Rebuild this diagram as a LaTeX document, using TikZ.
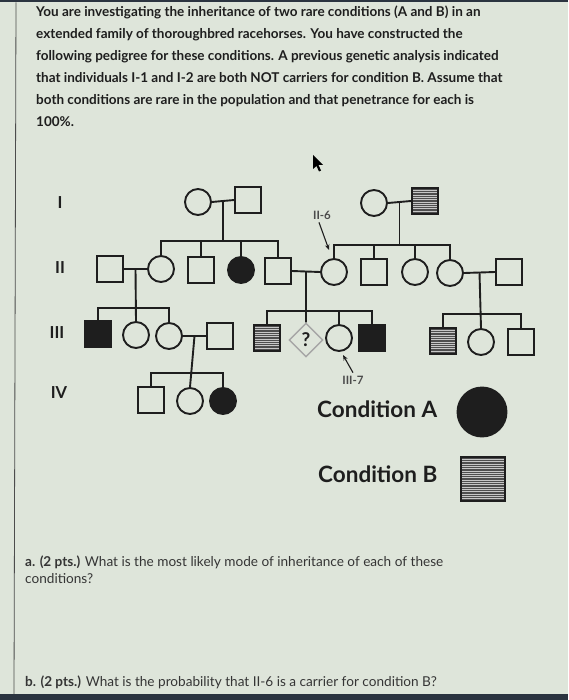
\documentclass[tikz,border=0pt]{standalone}
\usepackage{fontspec}
\setmainfont{Lato}
\usetikzlibrary{shapes.geometric,arrows.meta,calc}
\definecolor{bg}{HTML}{DEE5DA}
\definecolor{ink}{HTML}{1E1E1E}
\definecolor{hatch}{HTML}{4E4E4E}
\definecolor{frame}{HTML}{2B3440}
\begin{document}
\begin{tikzpicture}[x=1pt,y=-1pt,
  ind/.style={draw=ink, line width=1.9pt, inner sep=0pt, minimum size=26pt, fill=bg},
  male/.style={ind, rectangle},
  female/.style={ind, circle},
  affA/.style={fill=ink},
  affB/.style={fill=hatch, path picture={\foreach \k in {1,...,22}{\draw[black!22, line width=0.45pt] ([yshift=-\k*2.3pt]path picture bounding box.north west) -- ([yshift=-\k*2.3pt]path picture bounding box.north east);}}},
  unk/.style={diamond, draw=gray!70, line width=1.4pt, aspect=1, minimum size=34pt, inner sep=0pt, fill=bg, font=\bfseries\fontsize{19}{19}\selectfont, text=ink},
  rel/.style={draw=ink, line width=1.9pt},
  para/.style={anchor=base west, inner sep=0pt, text=ink, font=\bfseries\fontsize{13.5}{16}\selectfont},
  ques/.style={anchor=base west, inner sep=0pt, text=ink!90, font=\fontsize{13.6}{16}\selectfont},
  rowlab/.style={inner sep=0pt, text=ink, font=\bfseries\fontsize{16.5}{16}\selectfont},
  tag/.style={inner sep=0pt, text=ink!80, font=\bfseries\fontsize{11.5}{11}\selectfont},
  pointer/.style={draw=ink, line width=1.1pt, -{Stealth[length=5.5pt,width=4.5pt]}},
  legtext/.style={anchor=base west, inner sep=0pt, text=ink, font=\bfseries\fontsize{22.5}{22}\selectfont}
]
\useasboundingbox (0,0) rectangle (568,700);
\fill[bg] (0,0) rectangle (568,700);
\fill[frame] (0,0) rectangle (568,2.5);
\fill[frame] (0,694) rectangle (568,700);
\draw[gray!60!black, line width=0.8pt] (16,2.5) -- (14,694);

% paragraph
\node[para] (p1) at (36,17) {You are investigating the inheritance of two rare conditions (A and B) in an};
\node[para] (p2) at (36,39) {extended family of thoroughbred racehorses. You have constructed the};
\node[para] (p3) at (36,61) {following pedigree for these conditions. A previous genetic analysis indicated};
\node[para] (p4) at (36,83) {that individuals I-1 and I-2 are both NOT carriers for condition B. Assume that};
\node[para] (p5) at (36,105) {both conditions are rare in the population and that penetrance for each is};
\node[para] (p6) at (36,127) {100\%.};

% cursor
\fill[black] (313,155) -- (313,169) -- (316.5,166) -- (319,171.5) -- (321,170.5) -- (318.5,165) -- (323,165) -- cycle;

% row labels
\node[rowlab] (gI) at (60,203) {I};
\node[rowlab] (gII) at (60,268) {II};
\node[rowlab] (gIII) at (57,333) {III};
\node[rowlab] (gIV) at (59,393) {IV};

% generation I
\node[female] (I1) at (198,202) {};
\node[male] (I2) at (248,200) {};
\node[female] (I3) at (374,203) {};
\node[male,affB] (I4) at (425,201) {};

% generation II
\node[male] (II1) at (110,269) {};
\node[female] (II2) at (161,269) {};
\node[male] (II3) at (201,270) {};
\node[female,affA] (II4) at (241,270) {};
\node[male] (II5) at (278,271) {};
\node[female] (II6) at (334,272) {};
\node[male] (II7) at (374,272) {};
\node[female] (II8) at (415,272) {};
\node[female] (II9) at (450,273) {};
\node[male] (II10) at (509,272) {};

% generation III
\node[male,affA] (III1) at (98,334) {};
\node[female] (III2) at (136,335) {};
\node[female] (III3) at (169,336) {};
\node[male] (III4) at (220,336) {};
\node[male,affB] (III5) at (267,338) {};
\node[unk] (III6) at (306,340) {?};
\node[female] (III7) at (339,338) {};
\node[male,affA] (III8) at (372,338) {};
\node[male,affB] (III9) at (443,341) {};
\node[female] (III10) at (481,342) {};
\node[male] (III11) at (521,342) {};

% generation IV
\node[male] (IV1) at (151,400) {};
\node[female] (IV2) at (190,401) {};
\node[female,affA] (IV3) at (223,401) {};

% family I-1 x I-2
\draw[rel] (I1.east) -- (I2.west);
\coordinate (mI12) at ($(I1.east)!0.5!(I2.west)$);
\coordinate (sI12) at (mI12 |- 0,241);
\draw[rel] (mI12) -- (sI12);
\draw[rel] (II2.north) |- (sI12) -| (II5.north);
\draw[rel] (II3.north) -- (II3.north |- sI12);
\draw[rel] (II4.north) -- (II4.north |- sI12);

% family I-3 x I-4
\draw[rel] (I3.east) -- (I4.west);
\coordinate (mI34) at ($(I3.east)!0.5!(I4.west)$);
\coordinate (sI34) at (mI34 |- 0,245);
\draw[rel] (mI34) -- (sI34);
\draw[rel] (II6.north) |- (sI34) -| (II9.north);
\draw[rel] (II7.north) -- (II7.north |- sI34);
\draw[rel] (II8.north) -- (II8.north |- sI34);

% family II-1 x II-2
\draw[rel] (II1.east) -- (II2.west);
\coordinate (mII12) at ($(II1.east)!0.5!(II2.west)$);
\coordinate (sII12) at (mII12 |- 0,308);
\draw[rel] (mII12) -- (III2.north);
\draw[rel] (III1.north) |- (sII12) -| (III3.north);

% family II-5 x II-6
\draw[rel] (II5.east) -- (II6.west);
\coordinate (mII56) at ($(II5.east)!0.5!(II6.west)$);
\coordinate (sII56) at (mII56 |- 0,311);
\draw[rel] (mII56) -- (III6.north);
\draw[rel] (III5.north) |- (sII56) -| (III8.north);
\draw[rel] (III7.north) -- (III7.north |- sII56);

% family II-9 x II-10
\draw[rel] (II9.east) -- (II10.west);
\coordinate (mII910) at ($(II9.east)!0.5!(II10.west)$);
\coordinate (sII910) at (mII910 |- 0,314);
\draw[rel] (mII910) -- (III10.north);
\draw[rel] (III9.north) |- (sII910) -| (III11.north);

% family III-3 x III-4
\draw[rel] (III3.east) -- (III4.west);
\coordinate (mIII34) at ($(III3.east)!0.5!(III4.west)$);
\coordinate (sIII34) at (mIII34 |- 0,373);
\draw[rel] (mIII34) -- (IV2.north);
\draw[rel] (IV1.north) |- (sIII34) -| (IV3.north);

% pointers
\node[tag] (L6) at (322,215) {II-6};
\coordinate (a6) at (329,250);
\draw[pointer] ([xshift=-3pt,yshift=-3pt]L6.south) -- (a6);
\node[tag] (L7) at (353,380) {III-7};
\coordinate (a7) at (343,355);
\draw[pointer] ([yshift=3pt]L7.north) -- (a7);

% legend
\node[legtext] (LA) at (317,417) {Condition A};
\node[female,affA,minimum size=49pt] (legA) at (482,412) {};
\node[legtext] (LB) at (318,482) {Condition B};
\node[male,affB,minimum size=44pt] (legB) at (483,479) {};

% questions
\node[ques] (qa1) at (25,566) {\textbf{a. (2 pts.)} What is the most likely mode of inheritance of each of these};
\node[ques] (qa2) at (25,583) {conditions?};
\node[ques] (qb) at (25,686) {\textbf{b. (2 pts.)} What is the probability that II-6 is a carrier for condition B?};
\end{tikzpicture}
\end{document}
